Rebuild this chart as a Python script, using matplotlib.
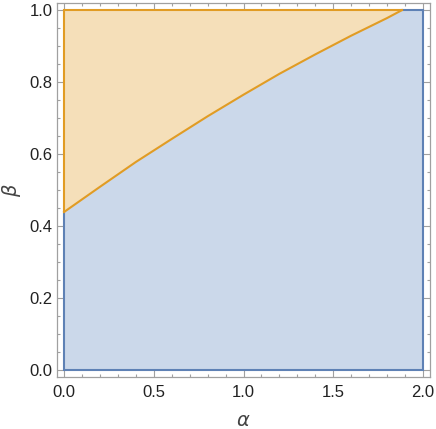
import numpy as np
import matplotlib
matplotlib.use('Agg')
import matplotlib.pyplot as plt
from matplotlib.ticker import MultipleLocator

# boundary curve between the two regions
alpha = [0.0, 0.2, 0.4, 0.6, 0.8, 1.0, 1.2, 1.4, 1.6, 1.8, 1.883]
beta = [0.439, 0.509, 0.578, 0.642, 0.705, 0.765, 0.823, 0.877, 0.929, 0.978, 1.0]

alpha_max = 2.0
beta_max = 1.0

blue_fill = '#cbd8ea'
orange_fill = '#f5dfb9'
blue_line = '#5e81b5'
orange_line = '#e19c24'
frame_col = '#a0a0a0'

plt.rcParams['font.family'] = ['Liberation Sans', 'DejaVu Sans']

fig = plt.figure(figsize=(4.36, 4.29), dpi=100)
ax = fig.add_axes([57 / 436, 52 / 429, (430 - 57) / 436, (377 - 3) / 429])

a = np.array(alpha)
b = np.array(beta)

# lower region (blue)
bx = np.concatenate([[0, alpha_max, alpha_max], a[::-1]])
by = np.concatenate([[0, 0, beta_max], b[::-1]])
ax.fill(bx, by, color=blue_fill, lw=0, zorder=1)

# upper region (orange)
ox = np.concatenate([a, [0]])
oy = np.concatenate([b, [beta_max]])
ax.fill(ox, oy, color=orange_fill, lw=0, zorder=1)

# region edges
ax.plot([0, 0, alpha_max, alpha_max, a[-1]], [b[0], 0, 0, beta_max, beta_max],
        color=blue_line, lw=1.5, zorder=3, solid_joinstyle='miter')
ax.plot([a[-1], 0, 0], [beta_max, beta_max, b[0]], color=orange_line, lw=1.5, zorder=4,
        solid_joinstyle='miter')
ax.plot(a, b, color=orange_line, lw=1.5, zorder=4)

ax.set_xlim(-0.04, 2.04)
ax.set_ylim(-0.02, 1.02)

ax.xaxis.set_major_locator(MultipleLocator(0.5))
ax.xaxis.set_minor_locator(MultipleLocator(0.1))
ax.yaxis.set_major_locator(MultipleLocator(0.2))
ax.yaxis.set_minor_locator(MultipleLocator(0.05))
ax.xaxis.set_major_formatter(lambda v, p: f'{v:.1f}')
ax.yaxis.set_major_formatter(lambda v, p: f'{v:.1f}')

ax.tick_params(which='both', direction='in', top=True, right=True, color=frame_col,
               width=0.8, labelsize=12, labelcolor='#222222')
ax.tick_params(which='major', length=5)
ax.tick_params(which='minor', length=2.5)
ax.tick_params(axis='x', pad=6)
ax.tick_params(axis='y', pad=3)
for s in ax.spines.values():
    s.set_color(frame_col)
    s.set_linewidth(0.9)

ax.set_xlabel(r'$\alpha$', fontsize=14, color='#444444', labelpad=9)
ax.set_ylabel(r'$\beta$', fontsize=14, color='#444444', labelpad=5)

fig.savefig('out.png', dpi=100)
